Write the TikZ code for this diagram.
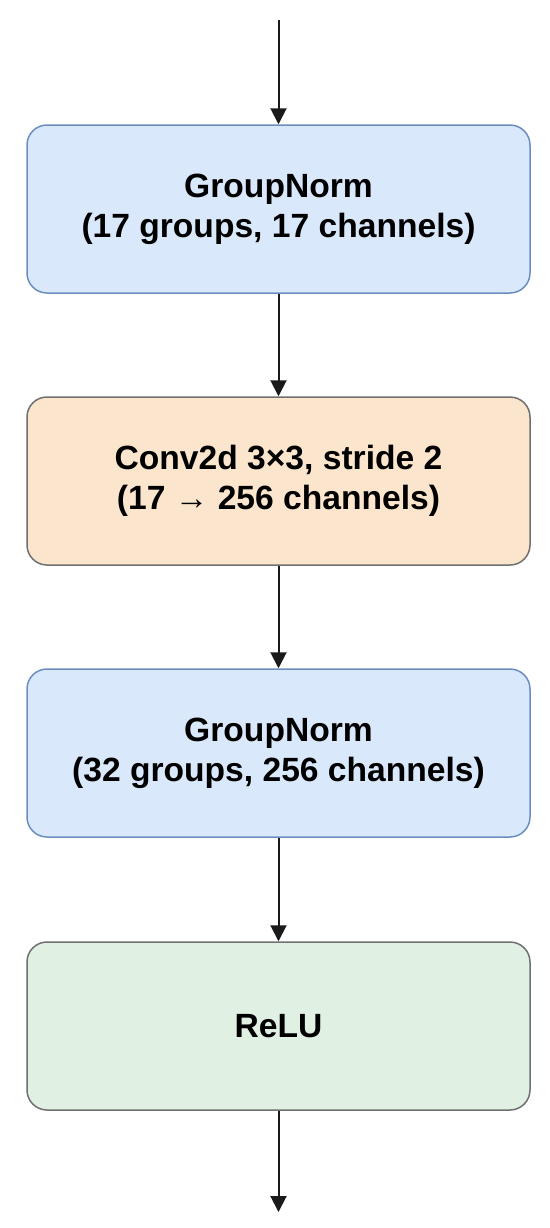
\documentclass[tikz,border=0pt]{standalone}
\usepackage{fontspec}
\setmainfont{Liberation Sans}
\usetikzlibrary{arrows.meta}
\definecolor{bluefill}{HTML}{DAE8FC}
\definecolor{blueline}{HTML}{6C8EBF}
\definecolor{orangefill}{HTML}{FCE5CD}
\definecolor{greenfill}{HTML}{E0F0E2}
\definecolor{grayline}{HTML}{707070}
\definecolor{arrowcol}{HTML}{1A1A1A}
\tikzset{
  block/.style={rounded corners=10pt, line width=0.75pt, minimum width=251.5pt, minimum height=84pt,
    align=center, font=\fontsize{16.8}{20}\selectfont\bfseries, text=black, inner sep=0pt},
  bluebox/.style={block, fill=bluefill, draw=blueline},
  orangebox/.style={block, fill=orangefill, draw=grayline},
  greenbox/.style={block, fill=greenfill, draw=grayline},
  conn/.style={draw=arrowcol, line width=1pt, -{Triangle[width=8pt,length=8pt]}}
}
\begin{document}
\begin{tikzpicture}[x=0.5pt,y=-0.5pt]
\useasboundingbox (0,0) rectangle (550,1228);
\fill[white] (0,0) rectangle (550,1228);
\node[bluebox] (gn1) at (278.5,209) {GroupNorm\\(17 groups, 17 channels)};
\node[orangebox] (conv) at (278.5,481) {Conv2d 3×3, stride 2\\(17 → 256 channels)};
\node[bluebox] (gn2) at (278.5,753) {GroupNorm\\(32 groups, 256 channels)};
\node[greenbox] (relu) at (278.5,1026) {ReLU};
\coordinate (in) at (278.5,20);
\coordinate (out) at (278.5,1212);
\draw[conn] (in) -- (gn1.north);
\draw[conn] (gn1.south) -- (conv.north);
\draw[conn] (conv.south) -- (gn2.north);
\draw[conn] (gn2.south) -- (relu.north);
\draw[conn] (relu.south) -- (out);
\end{tikzpicture}
\end{document}
